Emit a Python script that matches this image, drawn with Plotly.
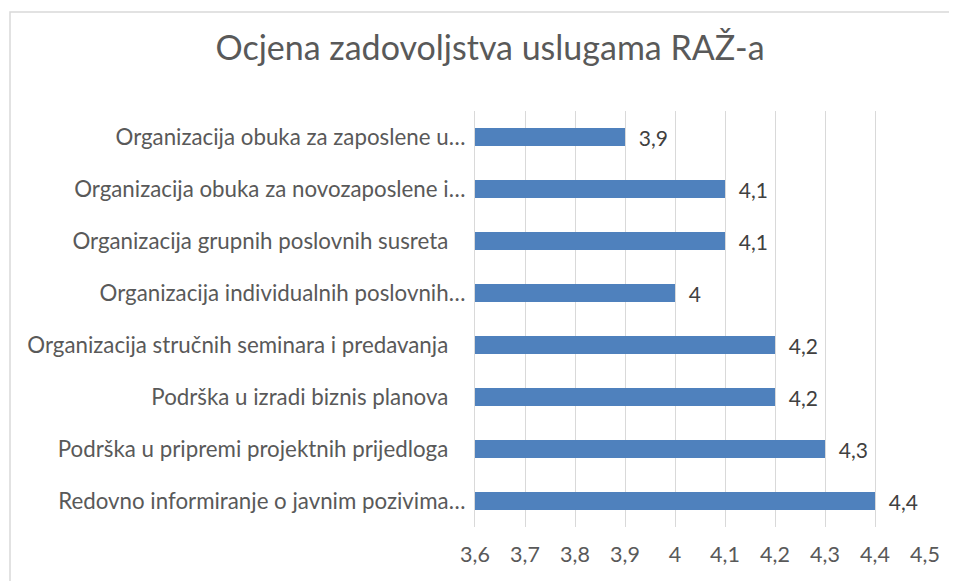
import plotly.graph_objects as go

categories = [
    "Organizacija obuka za zaposlene u…",
    "Organizacija obuka za novozaposlene i…",
    "Organizacija grupnih poslovnih susreta",
    "Organizacija individualnih poslovnih…",
    "Organizacija stručnih seminara i predavanja",
    "Podrška u izradi biznis planova",
    "Podrška u pripremi projektnih prijedloga",
    "Redovno informiranje o javnim pozivima…",
]
values = [3.9, 4.1, 4.1, 4.0, 4.2, 4.2, 4.3, 4.4]
tick_vals = [3.6, 3.7, 3.8, 3.9, 4.0, 4.1, 4.2, 4.3, 4.4, 4.5]
tick_text = ["3,6", "3,7", "3,8", "3,9", "4", "4,1", "4,2", "4,3", "4,4", "4,5"]
AXIS_MIN = 3.6

labels = ["\u00a0\u00a0" + ("%g" % v).replace(".", ",") for v in values]
# Excel labels that were not truncated keep a trailing space
cat_text = [c if c.endswith("…") else c + "\u00a0\u00a0\u00a0" for c in categories]

FONT = "Lato"
W, H = 957, 581
OFF = 8  # page body margin
L, R, T, B = 475 - OFF, 32 + OFF, 111 - OFF, 54 + OFF

fig = go.Figure(go.Bar(
    x=[v - AXIS_MIN for v in values], y=categories, orientation="h",
    base=AXIS_MIN,
    marker=dict(color="#4F81BD", line=dict(width=0)),
    text=labels, textposition="outside", cliponaxis=False, constraintext="none",
    textfont=dict(family=FONT, size=21, color="#404040"),
    customdata=values, hovertemplate="%{y}: %{customdata}<extra></extra>",
))

pw, ph = W - L - R, H - T - B
fig.add_shape(type="rect", xref="paper", yref="paper",
              x0=(10 - OFF - L) / pw, x1=(970 - L) / pw,
              y0=(H - B - 600) / ph, y1=(H - B - (12 - OFF)) / ph,
              line=dict(color="#D9D9D9", width=1.5), fillcolor="rgba(0,0,0,0)", layer="below")

fig.update_layout(
    width=W, height=H,
    margin=dict(l=L, r=R, t=T, b=B, pad=0, autoexpand=False),
    paper_bgcolor="white", plot_bgcolor="white",
    bargap=0.65,
    showlegend=False,
    font=dict(family=FONT, color="#595959"),
    title=dict(text="Ocjena zadovoljstva uslugama RAŽ-a", x=(490 - OFF) / W, xref="container", xanchor="center",
               y=1 - (48 - OFF) / H, yref="container", yanchor="middle",
               font=dict(family=FONT, size=34, color="#595959")),
    xaxis=dict(range=[3.6, 4.5], tickvals=tick_vals, ticktext=tick_text, showgrid=True, automargin=False,
               gridcolor="#D9D9D9", gridwidth=1.3, zeroline=False, showline=False,
               tickfont=dict(family=FONT, size=21.5, color="#595959"), ticklabelstandoff=12),
    yaxis=dict(autorange="reversed", showgrid=False, showline=True, linecolor="#D9D9D9", linewidth=1.3,
               automargin=False, tickvals=categories, ticktext=cat_text,
               tickfont=dict(family=FONT, size=22.3, color="#595959"), ticklabelstandoff=4),
)
fig.write_html("out.html")
